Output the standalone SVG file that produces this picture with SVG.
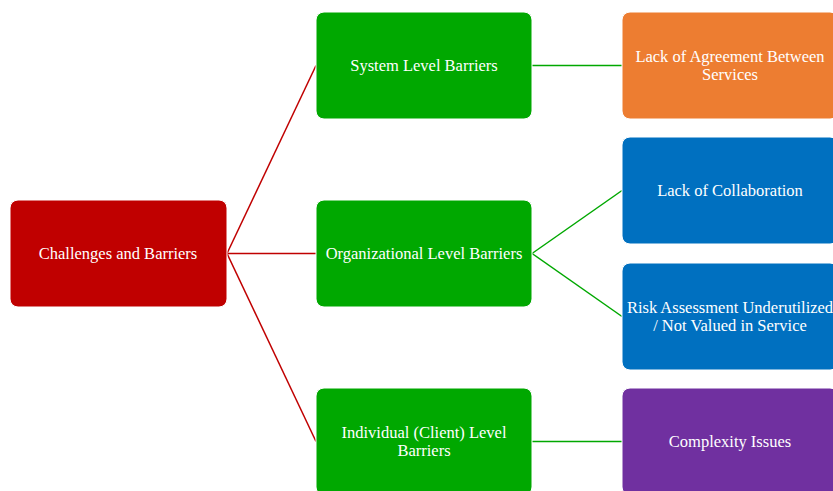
<svg xmlns="http://www.w3.org/2000/svg" width="833" height="491" viewBox="0 0 833 491">
<style>
.n{stroke:#ffffff;stroke-width:1}
.t{font-family:"Liberation Serif","Times New Roman",serif;font-size:16.5px;fill:#ffffff;text-anchor:middle}
.r{stroke:#C00000;stroke-width:1.5;fill:none}
.g{stroke:#00A800;stroke-width:1.5;fill:none}
</style>
<rect width="833" height="491" fill="#ffffff"/>
<g id="connectors">
<line class="r" x1="227" y1="253.5" x2="316" y2="65.5"/>
<line class="r" x1="227" y1="253.5" x2="316" y2="253.5"/>
<line class="r" x1="227" y1="253.5" x2="316" y2="441.5"/>
<line class="g" x1="532" y1="65.5" x2="622" y2="65.5"/>
<line class="g" x1="532" y1="253.5" x2="622" y2="190.5"/>
<line class="g" x1="532" y1="253.5" x2="622" y2="316.5"/>
<line class="g" x1="532" y1="441.5" x2="622" y2="441.5"/>
</g>
<g id="root">
<rect class="n" x="10" y="200" width="217" height="107" rx="8" fill="#C00000"/>
<text class="t" x="118" y="259">Challenges and Barriers</text>
</g>
<g id="system">
<rect class="n" x="316" y="12" width="216" height="107" rx="8" fill="#00A800"/>
<text class="t" x="424" y="71">System Level Barriers</text>
</g>
<g id="organizational">
<rect class="n" x="316" y="200" width="216" height="107" rx="8" fill="#00A800"/>
<text class="t" x="424" y="259">Organizational Level Barriers</text>
</g>
<g id="individual">
<rect class="n" x="316" y="388" width="216" height="107" rx="8" fill="#00A800"/>
<text class="t" x="424" y="438">Individual (Client) Level</text>
<text class="t" x="424" y="456">Barriers</text>
</g>
<g id="agreement">
<rect class="n" x="622" y="12" width="216" height="107" rx="8" fill="#ED7D31"/>
<text class="t" x="730" y="62">Lack of Agreement Between</text>
<text class="t" x="730" y="80">Services</text>
</g>
<g id="collaboration">
<rect class="n" x="622" y="137" width="216" height="107" rx="8" fill="#0070C0"/>
<text class="t" x="730" y="196">Lack of Collaboration</text>
</g>
<g id="risk">
<rect class="n" x="622" y="263" width="216" height="107" rx="8" fill="#0070C0"/>
<text class="t" x="730" y="313">Risk Assessment Underutilized</text>
<text class="t" x="730" y="331">/ Not Valued in Service</text>
</g>
<g id="complexity">
<rect class="n" x="622" y="388" width="216" height="107" rx="8" fill="#7030A0"/>
<text class="t" x="730" y="447">Complexity Issues</text>
</g>
</svg>
